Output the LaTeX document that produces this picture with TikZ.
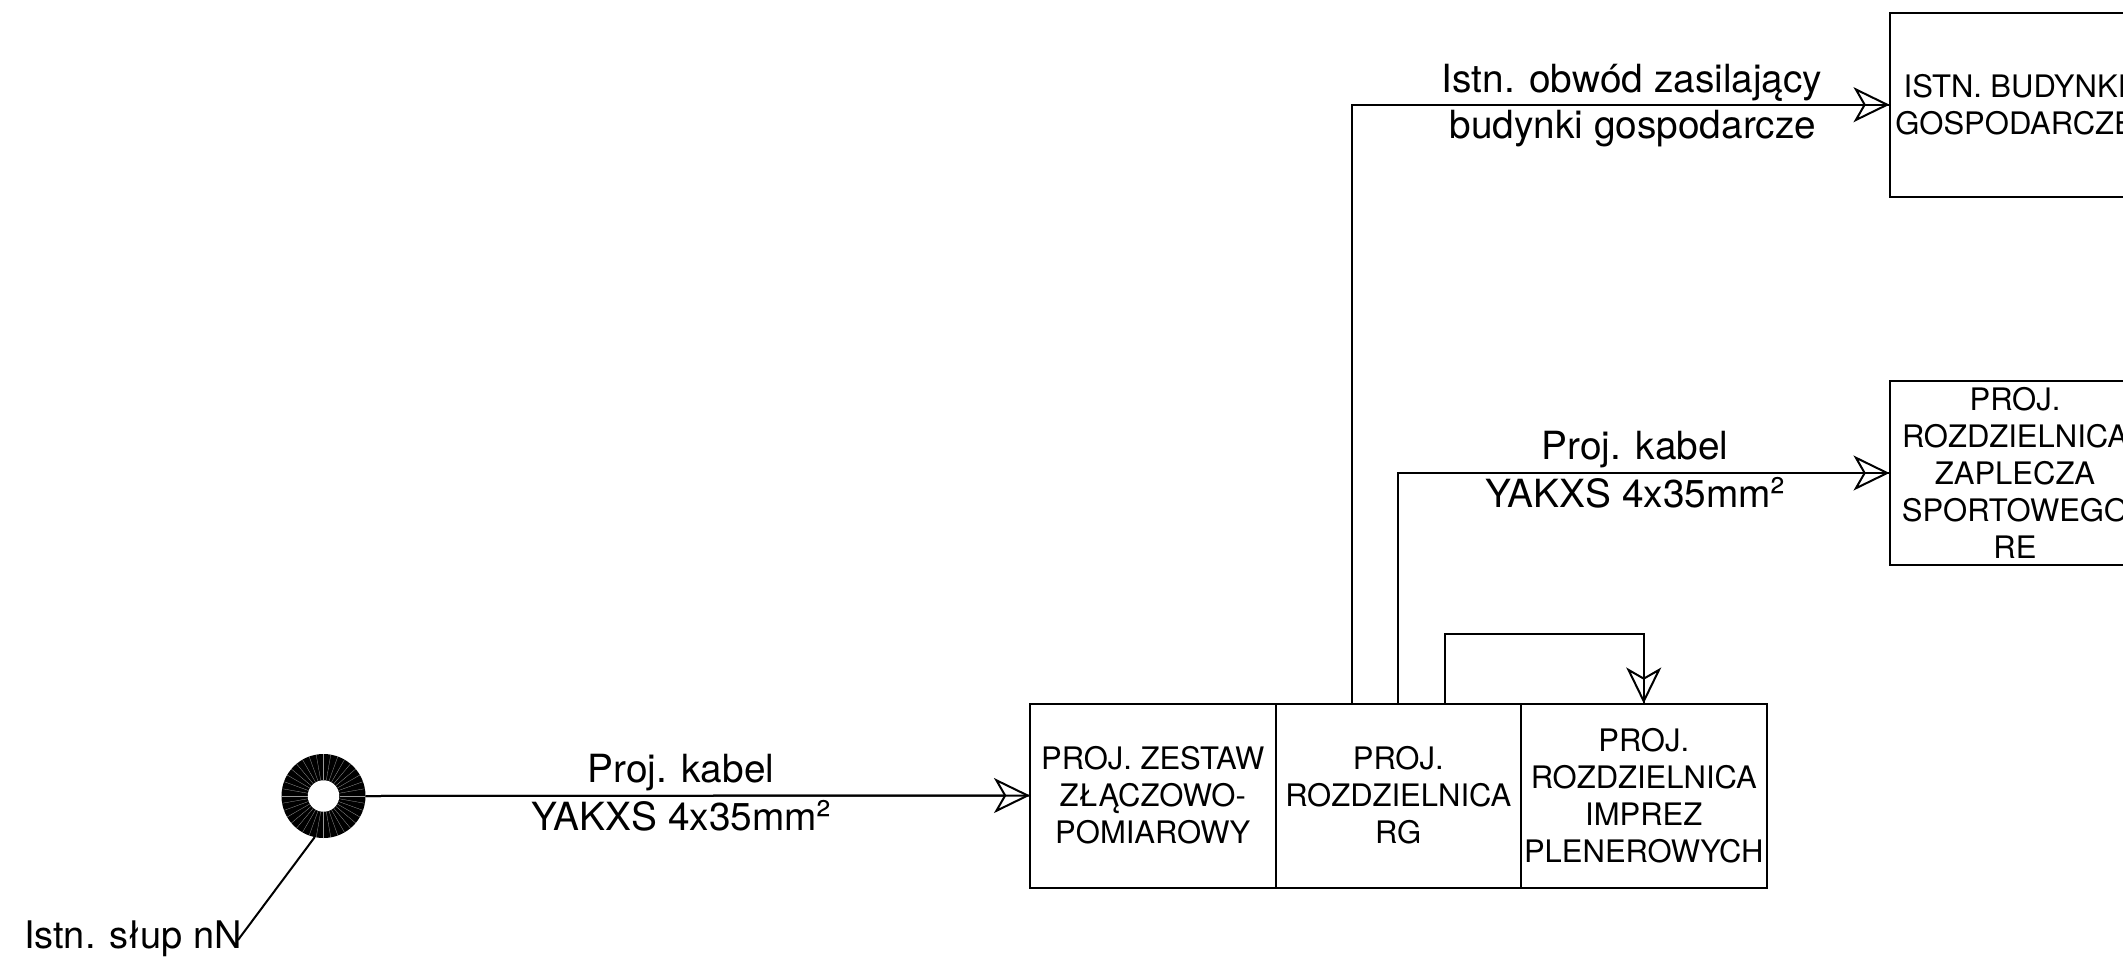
\documentclass[tikz,border=0pt]{standalone}
\usepackage{fontspec}
\setmainfont{TeX Gyre Heros}
\usetikzlibrary{arrows.meta}
\newcommand{\sqsup}{\raisebox{-1.2pt}{\fontsize{44}{44}\selectfont ²}}
\tikzset{
  unitbox/.style={draw=black,line width=2pt,fill=none,minimum width=245.5pt,minimum height=184pt,inner sep=0pt,outer sep=0pt,align=center,font=\fontsize{31}{37}\selectfont},
  sidebox/.style={unitbox,minimum width=251pt},
  lab/.style={inner sep=0pt,outer sep=0pt,anchor=base,font=\fontsize{38.8}{38.8}\selectfont},
  conn/.style={line width=2pt,postaction={draw,line width=2pt,-{Stealth[open,length=36pt,width=35pt,inset=10pt]}}},
  wire/.style={line width=2pt}
}
\begin{document}
\begin{tikzpicture}[x=1pt,y=-1pt]
\useasboundingbox (0,0) rectangle (2123,956);
\fill[white] (0,0) rectangle (2123,956);
\node[unitbox] (zlacze) at (1152.75,795.5) {PROJ. ZESTAW\\ZŁĄCZOWO-\\POMIAROWY};
\node[unitbox] (rg) at (1398.25,795.5) {PROJ.\\ROZDZIELNICA\\RG};
\node[unitbox] (plen) at (1643.75,795.5) {PROJ.\\ROZDZIELNICA\\IMPREZ\\PLENEROWYCH};
\node[sidebox] (bud) at (2015,104.7) {ISTN. BUDYNKI\\GOSPODARCZE};
\node[sidebox] (zap) at (2015,473) {PROJ.\\ROZDZIELNICA\\ZAPLECZA\\SPORTOWEGO\\RE};
\node[circle,fill=black,minimum size=84pt,inner sep=0pt,outer sep=0pt] (slup) at (323.5,796) {};
\foreach \a in {0,10,...,350}
  \draw[gray!80,line width=0.3pt] (slup.center) ++(\a:16pt) -- ++(\a:26pt);
\node[circle,fill=white,minimum size=31.5pt,inner sep=0pt,outer sep=0pt] (hole) at (slup.center) {};
\coordinate (slupend) at (238,940);
\draw[wire] (slup.-102) -- (slupend);
\draw[conn] (slup.east) -- (zlacze.west);
\draw[conn] (rg.north) ++(-46.5pt,0) coordinate (rga) |- (bud.west);
\draw[conn] (rg.north) |- (zap.west);
\draw[conn] (rg.north) ++(46.5pt,0) coordinate (rgc) -- ++(0,-69.7) -| (plen.north);
\node[lab] (l1) at (1632,92) {Istn. obwód zasilający};
\node[lab] (l2) at (1633,138.5) {budynki gospodarcze};
\node[lab] (l3) at (1635,459.5) {Proj. kabel};
\node[lab] (l4) at (1635.5,507.5) {YAKXS 4x35mm\sqsup};
\node[lab] (l5) at (681,782) {Proj. kabel};
\node[lab] (l6) at (681.5,830.5) {YAKXS 4x35mm\sqsup};
\node[lab,anchor=base west,font=\fontsize{38}{38}\selectfont] (l7) at (24,948.3) {Istn. słup nN};
\end{tikzpicture}
\end{document}
